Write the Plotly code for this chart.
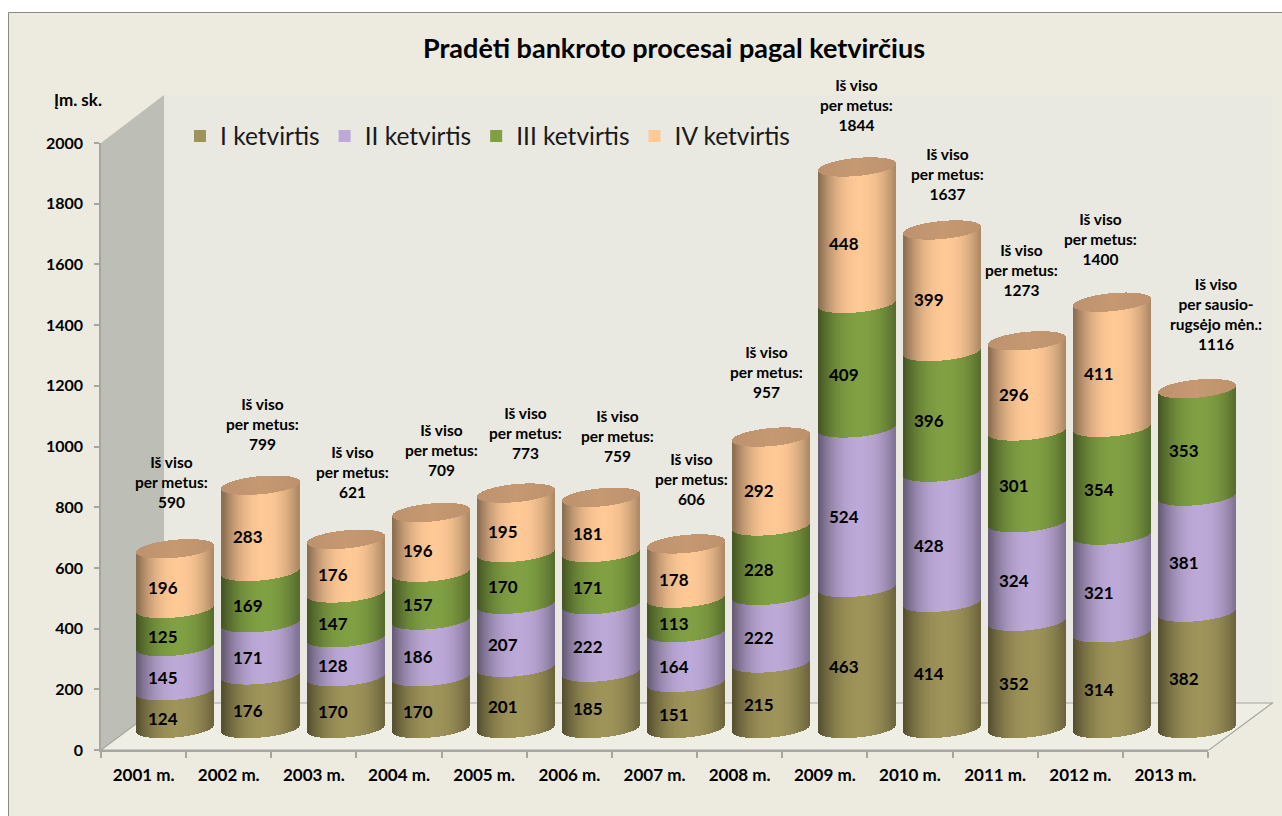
import plotly.graph_objects as go
import math

years = ["2001 m.", "2002 m.", "2003 m.", "2004 m.", "2005 m.", "2006 m.", "2007 m.",
         "2008 m.", "2009 m.", "2010 m.", "2011 m.", "2012 m.", "2013 m."]
q1 = [124, 176, 170, 170, 201, 185, 151, 215, 463, 414, 352, 314, 382]
q2 = [145, 171, 128, 186, 207, 222, 164, 222, 524, 428, 324, 321, 381]
q3 = [125, 169, 147, 157, 170, 171, 113, 228, 409, 396, 301, 354, 353]
q4 = [196, 283, 176, 196, 195, 181, 178, 292, 448, 399, 296, 411, None]
totals = [590, 799, 621, 709, 773, 759, 606, 957, 1844, 1637, 1273, 1400, 1116]
series_names = ["I ketvirtis", "II ketvirtis", "III ketvirtis", "IV ketvirtis"]
series_colors = ["#9E9359", "#BDA9D8", "#80A043", "#FFC996"]
cap_color = "#C29670"
y_ticks = [0, 200, 400, 600, 800, 1000, 1200, 1400, 1600, 1800, 2000]

# total-label nudges in pixels, relative to the top of each cylinder
total_dx = [-4, 2, 7, 10, 9, 16, 5, -5, 0, 6, -6, -12, 19]
total_dy = [66, 61, 67, 62, 60, 61, 64, 65, 62, 56, 70, 63, 74]

W, H = 1282, 816
X0, X1 = 101, 1208          # front axis extent
Y0, Y2000 = 750, 143
PITCH = (X1 - X0) / 13
SHIFT = 32                  # depth shift of the cylinders
BASE_PX = 728               # pixel of value 0 for the cylinders
SCALE = 0.3045              # pixels per unit
R = 38.5                    # cylinder radius, px
B = 9.0                     # ellipse half height, px
TILT = 3.5                  # ellipse tilt, px
PAD = 100                   # extra axis units so curved ends are not clipped


def fx(p):
    return p / W


def fy(p):
    return 1 - p / H


def rgb(c, f):
    r, g, b = int(c[1:3], 16), int(c[3:5], 16), int(c[5:7], 16)
    return f"rgb({min(255, r * f):.0f},{min(255, g * f):.0f},{min(255, b * f):.0f})"


def shade(u):
    d = (u - 0.08) / 1.08
    return 1 - 0.46 * abs(d) ** 2.2


offsets = sorted(range(-38, 39), key=abs)   # centre strip first: it colours the legend swatch
STRIP_W = 1.6 / PITCH
fig = go.Figure()

series = [q1, q2, q3, q4]
stack = [0] * len(years)
for name, col, vals in zip(series_names, series_colors, series):
    xs, bases, hs, cols = [], [], [], []
    for i, v in enumerate(vals):
        if v is None:
            continue
        for s in offsets:
            u = s / R
            arc = (TILT * u - B * math.sqrt(max(0, 1 - u * u))) / SCALE
            xs.append(i + s / PITCH)
            bases.append(stack[i] + arc)
            hs.append(v)
            cols.append(rgb(col, shade(u)))
        stack[i] += v
    fig.add_trace(go.Bar(x=xs, y=hs, base=bases, width=STRIP_W, name=name,
                         marker=dict(color=cols, line=dict(width=0)),
                         xaxis="x2", yaxis="y2", hoverinfo="skip"))

# tops of the cylinders
xs, bases, hs, cols = [], [], [], []
for i, t in enumerate(totals):
    for s in offsets:
        u = s / R
        half = B * math.sqrt(max(0, 1 - u * u))
        xs.append(i + s / PITCH)
        bases.append(t + (TILT * u - half) / SCALE)
        hs.append(2 * half / SCALE)
        cols.append(rgb(cap_color, 0.97 + 0.05 * (1 - abs(u))))
fig.add_trace(go.Bar(x=xs, y=hs, base=bases, width=STRIP_W, showlegend=False,
                     marker=dict(color=cols, line=dict(width=0)),
                     xaxis="x2", yaxis="y2", hoverinfo="skip"))

# keeps the axis categories on the front axis
fig.add_trace(go.Scatter(x=years, y=totals, mode="none", showlegend=False,
                         xaxis="x", yaxis="y", hoverinfo="skip"))

anns = []
FONT = "Lato"
# values inside the segments
for vals, start in zip(series, [[0] * 13, q1,
                                [a + b for a, b in zip(q1, q2)],
                                [a + b + c for a, b, c in zip(q1, q2, q3)]]):
    for i, v in enumerate(vals):
        if v is None:
            continue
        anns.append(dict(x=i, y=start[i] + v / 2, xref="x2", yref="y2", text=str(v),
                         showarrow=False, xshift=-13, yshift=-9,
                         font=dict(family=FONT, size=17, color="#000000", weight=700)))
# totals
for i, t in enumerate(totals):
    txt = f"Iš viso<br>per metus:<br>{t}"
    if i == 12:
        txt = f"Iš viso<br>per sausio-<br>rugsėjo mėn.:<br>{t}"
    anns.append(dict(x=i, y=t, xref="x2", yref="y2", text=txt, showarrow=False,
                     xshift=total_dx[i], yshift=total_dy[i], align="center",
                     font=dict(family=FONT, size=15.5, color="#000000", weight=700)))
anns.append(dict(x=fx(78), y=fy(99), xref="paper", yref="paper", text="Įm. sk.", showarrow=False,
                 xanchor="center", yanchor="middle",
                 font=dict(family=FONT, size=17, color="#000000", weight=700)))

line_col = "#A6A6A0"
shapes = [
    dict(type="rect", xref="paper", yref="paper", x0=fx(8.5), x1=fx(1300), y0=fy(12.5), y1=fy(840),
         fillcolor="#EDEBE0", line=dict(color="#8A8A86", width=1), layer="below"),
    dict(type="rect", xref="paper", yref="paper", x0=fx(164), x1=fx(1272.5), y0=fy(95), y1=fy(703),
         fillcolor="#E9E9E1", line=dict(width=0), layer="below"),
    dict(type="path", xref="paper", yref="paper",
         path=f"M{fx(101)},{fy(143)} L{fx(164)},{fy(95)} L{fx(164)},{fy(703)} L{fx(101)},{fy(750)} Z",
         fillcolor="#BDBEB5", line=dict(width=0), layer="below"),
    dict(type="path", xref="paper", yref="paper",
         path=f"M{fx(101)},{fy(750)} L{fx(164)},{fy(703)} L{fx(1272.5)},{fy(703)} L{fx(1209)},{fy(750)} Z",
         fillcolor="#EEEEE4", line=dict(color=line_col, width=1.2), layer="below"),
]

tick_font = dict(family=FONT, size=17, color="#000000", weight=700)
fig.update_layout(
    width=W, height=H,
    margin=dict(l=0, r=0, t=0, b=0, autoexpand=False),
    paper_bgcolor="#FFFFFF", plot_bgcolor="rgba(0,0,0,0)",
    barmode="overlay", bargap=0,
    font=dict(family=FONT, color="#000000"),
    title=dict(text="Pradėti bankroto procesai pagal ketvirčius", x=674 / W, xanchor="center",
               y=fy(49), yanchor="middle",
               font=dict(family=FONT, size=27, color="#000000", weight=700)),
    legend=dict(orientation="h", x=fx(180), y=fy(136), xanchor="left", yanchor="middle",
                bgcolor="rgba(0,0,0,0)", font=dict(family=FONT, size=24.5, color="#1a1a1a")),
    xaxis=dict(domain=[fx(X0), fx(X1)], type="category", categoryorder="array", categoryarray=years,
               range=[-0.5, 12.5], tickson="boundaries", ticks="outside", ticklen=6, tickwidth=1.5,
               tickcolor=line_col, showline=True, linecolor=line_col, linewidth=2, showgrid=False,
               tickfont=tick_font, ticklabelstandoff=9,
               anchor="y", zeroline=False, fixedrange=True),
    yaxis=dict(domain=[fy(Y0), fy(Y2000)], range=[0, 2000], tickvals=y_ticks, ticks="outside", ticklen=5,
               tickwidth=1.5, tickcolor=line_col, showline=True, linecolor=line_col, linewidth=1.5,
               showgrid=False, zeroline=False, anchor="x", fixedrange=True, ticklabelstandoff=8,
               tickfont=dict(family=FONT, size=16, color="#000000", weight=700)),
    xaxis2=dict(domain=[fx(X0 + SHIFT), fx(X1 + SHIFT)], range=[-0.5, 12.5], visible=False,
                anchor="y2", fixedrange=True),
    yaxis2=dict(domain=[fy(BASE_PX + PAD * SCALE), fy(BASE_PX - 2100 * SCALE)], range=[-PAD, 2100],
                visible=False, anchor="x2", fixedrange=True),
    annotations=anns, shapes=shapes,
)

fig.write_html("out.html", config=dict(displayModeBar=False),
               post_script="document.body.style.margin='0';document.documentElement.style.overflow='hidden';")
